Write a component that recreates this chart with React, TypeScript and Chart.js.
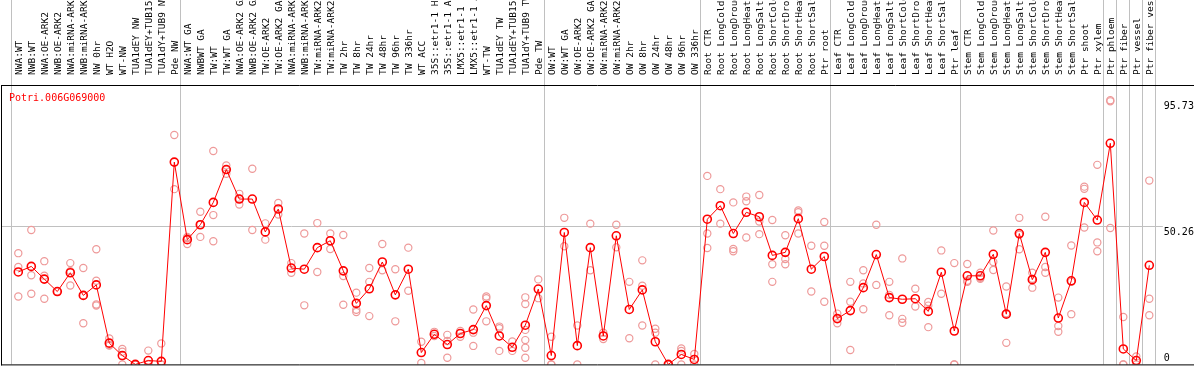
import React, { useEffect, useRef } from 'react';
import { Chart, registerables } from 'chart.js';

Chart.register(...registerables);

const geneId = 'Potri.006G069000';

const categories = [
  'NWA:WT', 'NWB:WT', 'NWA:OE-ARK2', 'NWB:OE-ARK2', 'NWA:miRNA-ARK2', 'NWB:miRNA-ARK2',
  'NW 0hr', 'WT H2O', 'WT-NW', 'TUA1dEY NW', 'TUA1dEY+TUB15 NW', 'TUA1dY+TUB9 NW', 'Pde NW',
  'NWA:WT GA', 'NWBWT GA', 'TW:WT', 'TW:WT GA', 'NWA:OE-ARK2 GA', 'NWB:OE-ARK2 GA',
  'TW:OE-ARK2', 'TW:OE-ARK2 GA', 'NWA:miRNA-ARK2', 'NWB:miRNA-ARK2', 'TW:miRNA-ARK2',
  'TW:miRNA-ARK2', 'TW 2hr', 'TW 8hr', 'TW 24hr', 'TW 48hr', 'TW 96hr', 'TW 336hr', 'WT ACC',
  '35S::etr1-1 H2O', '35S::etr1-1 ACC', 'LMX5::etr1-1 H2O', 'LMX5::etr1-1 ACC', 'WT-TW',
  'TUA1dEY TW', 'TUA1dEY+TUB15 TW', 'TUA1dY+TUB9 TW', 'Pde TW',
  'OW:WT', 'OW:WT GA', 'OW:OE-ARK2', 'OW:OE-ARK2 GA', 'OW:miRNA-ARK2', 'OW:miRNA-ARK2',
  'OW 2hr', 'OW 8hr', 'OW 24hr', 'OW 48hr', 'OW 96hr', 'OW 336hr',
  'Root CTR', 'Root LongCold', 'Root LongDrought', 'Root LongHeat', 'Root LongSalt',
  'Root ShortCold', 'Root ShortDrought', 'Root ShortHeat', 'Root ShortSalt', 'Ptr root',
  'Leaf CTR', 'Leaf LongCold', 'Leaf LongDrought', 'Leaf LongHeat', 'Leaf LongSalt',
  'Leaf ShortCold', 'Leaf ShortDrought', 'Leaf ShortHeat', 'Leaf ShortSalt', 'Ptr leaf',
  'Stem CTR', 'Stem LongCold', 'Stem LongDrought', 'Stem LongHeat', 'Stem LongSalt',
  'Stem ShortCold', 'Stem ShortDrought', 'Stem ShortHeat', 'Stem ShortSalt', 'Ptr shoot',
  'Ptr xylem', 'Ptr phloem', 'Ptr fiber', 'Ptr vessel', 'Ptr fiber vessel',
];

const meanValues = [
  33.5, 35.5, 30.9, 26.4, 33.2, 25.0, 28.8, 7.7, 3.2, 0.0, 1.4, 1.1, 73.3,
  45.2, 50.6, 58.7, 70.6, 59.9, 59.9, 48.0, 56.3, 34.9, 34.5, 42.3, 44.8,
  33.9, 22.1, 27.4, 37.1, 25.2, 34.5, 4.3, 10.9, 7.2, 11.2, 12.6, 21.3,
  10.3, 6.2, 14.2, 27.3,
  3.2, 47.8, 6.8, 42.3, 10.3, 46.6, 19.9, 27.0, 8.2, 0.0, 3.6, 1.8,
  52.6, 57.5, 47.4, 55.1, 53.5, 39.5, 40.6, 52.8, 34.5, 39.1,
  16.6, 19.5, 27.8, 39.8, 24.2, 23.6, 23.8, 19.2, 33.4, 12.1,
  32.1, 32.1, 39.9, 18.2, 47.4, 30.7, 40.6, 16.8, 30.3, 58.7,
  52.3, 80.1, 5.6, 1.4, 35.9,
];

const replicateValues: number[][] = [
  [40.3, 35.3, 24.6], [48.7, 32.3, 25.6], [37.4, 32.1, 23.8], [26.4], [36.7, 33.8, 28.6],
  [34.9, 25.0, 14.9], [41.7, 30.3, 21.7, 21.3], [9.4, 7.0, 6.8], [5.6, 4.6, 0], [0, 0, 0],
  [5.0, 0.2, 0], [7.6, 0, 0], [83.1, 63.5],
  [46.2, 43.6, 45.8], [55.3, 46.2, 50.6], [77.3, 54.1, 44.6], [72.1, 69.1, 70.5],
  [61.8, 57.9, 60.0], [70.9, 48.7], [51.1, 45.2], [58.5, 54.3], [36.7, 33.2], [47.4, 21.4],
  [51.2, 33.5], [47.4, 41.8], [46.9, 32.0, 21.6], [26.0, 19.8, 19.0], [34.9, 29.9, 17.5],
  [43.6, 34.1], [34.5, 15.6], [42.3, 26.7], [8.2, 0.5], [11.8, 10.3], [10.7, 8.5, 2.4],
  [12.1, 10.0], [19.9, 11.5, 6.7], [24.6, 24.0, 15.6], [13.7, 13.1, 4.9], [8.3, 4.9],
  [24.3, 21.9, 12.5, 8.8, 6.0, 2.4], [30.8, 24.0],
  [10.0, 0, 0], [53.1, 42.8], [14.1, 0], [51.0, 34.1], [11.5, 9.2], [50.6, 42.4],
  [29.9, 9.5], [37.7, 28.5, 14.1], [12.9, 11.5, 0], [0, 0], [5.8, 4.9, 0], [3.8, 0],
  [68.3, 47.4, 42.2], [63.5, 51.0], [58.7, 41.8, 41.0], [60.8, 59.1, 46.0], [61.4, 51.8, 47.2],
  [52.3, 36.3, 29.9], [46.8, 38.2, 36.3], [55.1, 55.8, 47.4], [43.0, 26.4], [51.6, 43.0, 22.7],
  [18.4, 14.9], [29.9, 22.7, 5.2], [34.1, 29.3, 20.0], [50.6, 28.8], [29.9, 25.2, 17.8],
  [38.4, 16.5, 15.1], [27.4, 21.0], [22.6, 21.3, 13.5], [41.3, 25.6], [36.7, 0, 0],
  [36.4, 30.3, 29.9], [33.2, 31.4, 31.0], [48.5, 37.1, 34.2], [28.2, 18.5, 7.8],
  [53.1, 47.0, 41.7], [33.2, 31.0, 27.8], [53.5, 35.3, 33.2], [24.2, 13.9, 11.8],
  [43.1, 29.9, 18.2], [64.4, 63.6, 49.6],
  [72.3, 44.2, 41.0], [95.73, 95.3, 49.4], [17.2, 0, 0], [2.9, 0], [66.6, 23.8, 17.8],
];

const axisMarks = [95.73, 50.26, 0];
const groupBreaks = [0, 13, 41, 53, 63, 73, 84, 85, 86, 87, 88];

const MONO = '"DejaVu Sans Mono", monospace';

const decorPlugin = {
  id: 'decor',
  beforeDatasetsDraw(chart: any) {
    const { ctx, chartArea: a, scales } = chart;
    const xs = scales.x;
    const ys = scales.y;
    ctx.save();
    ctx.strokeStyle = '#c0c0c0';
    ctx.lineWidth = 1;
    const gy = Math.round(ys.getPixelForValue(50.26)) + 0.5;
    ctx.beginPath();
    ctx.moveTo(1, gy);
    ctx.lineTo(a.right + 7, gy);
    ctx.stroke();
    const step = xs.getPixelForValue(1) - xs.getPixelForValue(0);
    for (const b of groupBreaks) {
      const px = Math.round(xs.getPixelForValue(b) - step / 2) - 0.5;
      ctx.beginPath();
      ctx.moveTo(px, 0);
      ctx.lineTo(px, a.bottom);
      ctx.stroke();
    }
    ctx.restore();
  },
  afterDraw(chart: any) {
    const { ctx, chartArea: a, scales, width } = chart;
    const ys = scales.y;
    ctx.save();
    ctx.strokeStyle = '#000';
    ctx.lineWidth = 1;
    ctx.beginPath();
    ctx.moveTo(1, a.top + 0.5);
    ctx.lineTo(width, a.top + 0.5);
    ctx.moveTo(1.5, a.top);
    ctx.lineTo(1.5, a.bottom + 1);
    ctx.moveTo(1, a.bottom + 0.5);
    ctx.lineTo(width, a.bottom + 0.5);
    ctx.stroke();
    ctx.font = '10px ' + MONO;
    ctx.fillStyle = '#ff0000';
    ctx.textAlign = 'left';
    ctx.textBaseline = 'alphabetic';
    ctx.fillText(geneId, 9, a.top + 15.5);
    ctx.fillStyle = '#000';
    for (const v of axisMarks) {
      const py = ys.getPixelForValue(v);
      ctx.fillText(String(v), a.right + 8, v > 0 ? py + 9 : py - 3);
    }
    ctx.restore();
  },
};

export default function App() {
  const ref = useRef<HTMLCanvasElement>(null);
  useEffect(() => {
    const maxReps = Math.max(...replicateValues.map((r) => r.length));
    const repSets = [];
    for (let k = 0; k < maxReps; k++) {
      repSets.push({
        label: 'replicate ' + (k + 1),
        data: categories.map((_, i) => (replicateValues[i][k] ?? null)),
        showLine: false,
        pointRadius: 3.6,
        pointBorderWidth: 1.2,
        pointBorderColor: '#ee9a9a',
        pointBackgroundColor: 'rgba(0,0,0,0)',
        borderColor: '#ee9a9a',
        order: 2,
      });
    }
    const chart = new Chart(ref.current!, {
      type: 'line',
      data: {
        labels: categories,
        datasets: [
          {
            label: 'mean',
            data: meanValues,
            borderColor: '#ff0000',
            borderWidth: 1,
            tension: 0,
            pointRadius: 4,
            pointBorderWidth: 1.6,
            pointBorderColor: '#ff0000',
            pointBackgroundColor: 'rgba(0,0,0,0)',
            order: 0,
          },
          ...repSets,
        ] as any,
      },
      options: {
        responsive: false,
        animation: false,
        devicePixelRatio: 1,
        events: [],
        layout: { padding: { left: 11.8, right: 0, top: 0, bottom: 1 } },
        plugins: {
          legend: { display: false },
          tooltip: { enabled: false },
          title: { display: false },
        },
        scales: {
          x: {
            type: 'category',
            position: 'top',
            offset: true,
            grid: { display: false },
            border: { display: false },
            ticks: {
              autoSkip: false,
              minRotation: 90,
              maxRotation: 90,
              padding: 2,
              labelOffset: 12.5,
              color: '#000',
              font: { family: MONO, size: 9.5 },
            },
            afterFit: (s: any) => {
              s.height = 85;
            },
          },
          y: {
            position: 'right',
            min: 0,
            max: 101.23,
            grid: { display: false },
            border: { display: false },
            ticks: { display: false },
            afterFit: (s: any) => {
              s.width = 38.2;
            },
          },
        },
      } as any,
      plugins: [decorPlugin],
    });
    return () => chart.destroy();
  }, []);
  return (
    <div style={{ position: 'fixed', left: 0, top: 0, width: 1194, height: 370, background: '#fff' }}>
      <canvas ref={ref} width={1194} height={370} style={{ display: 'block', width: 1194, height: 370 }} />
    </div>
  );
}
